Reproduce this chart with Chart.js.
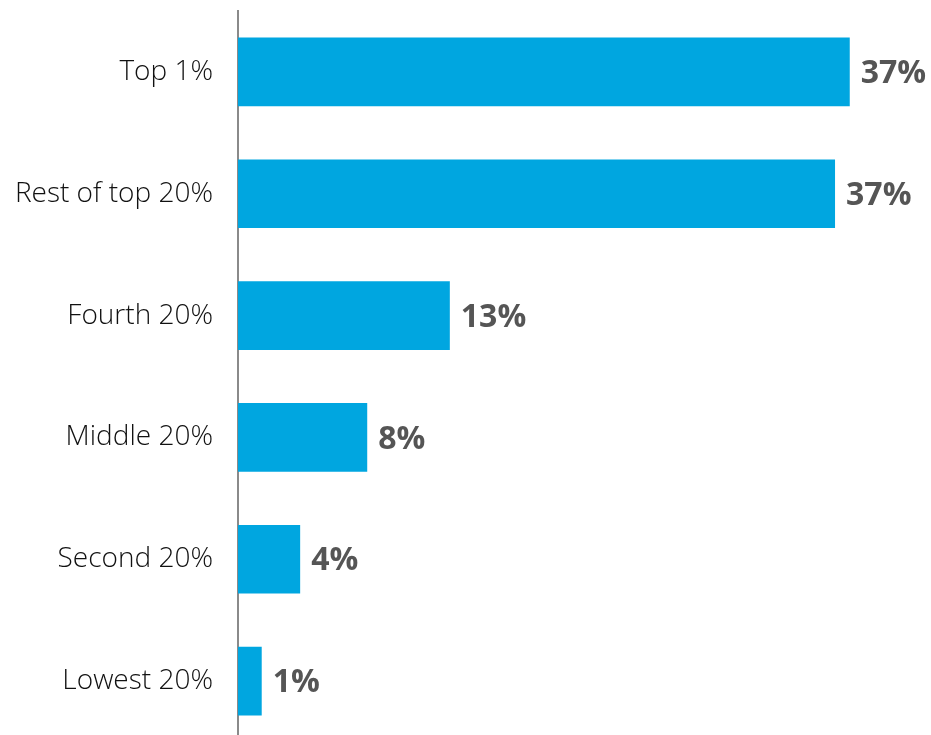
<!DOCTYPE html>
<html>
<head>
<meta charset="utf-8">
<script src="https://cdn.jsdelivr.net/npm/chart.js@4"></script>
<style>
  html, body { margin: 0; padding: 0; background: #fff; overflow: hidden; }
  #wrap { width: 931px; height: 742px; position: relative; }
</style>
</head>
<body>
<div id="wrap"><canvas id="c"></canvas></div>
<script>
const categories = ["Top 1%", "Rest of top 20%", "Fourth 20%", "Middle 20%", "Second 20%", "Lowest 20%"];
const shares = [37.4, 36.5, 12.95, 7.9, 3.8, 1.45];
const shareLabels = ["37%", "37%", "13%", "8%", "4%", "1%"];

const valueLabelPlugin = {
  id: 'valueLabels',
  afterDatasetsDraw(chart) {
    const ctx = chart.ctx;
    const meta = chart.getDatasetMeta(0);
    ctx.save();
    ctx.font = 'bold 32px "Open Sans"';
    ctx.fillStyle = '#555555';
    ctx.textAlign = 'left';
    ctx.textBaseline = 'middle';
    meta.data.forEach((bar, i) => {
      ctx.fillText(shareLabels[i], bar.x + 11, bar.y + 2);
    });
    ctx.restore();
  }
};

new Chart(document.getElementById('c'), {
  type: 'bar',
  data: {
    labels: categories,
    datasets: [{
      data: shares,
      backgroundColor: '#00a6e0',
      borderWidth: 0,
      categoryPercentage: 0.563,
      barPercentage: 1.0
    }]
  },
  options: {
    indexAxis: 'y',
    responsive: true,
    maintainAspectRatio: false,
    animation: false,
    layout: { padding: { top: 11, right: 6, bottom: 0, left: 0 } },
    plugins: { legend: { display: false }, tooltip: { enabled: false } },
    scales: {
      x: { display: false, min: 0, max: 42 },
      y: {
        afterFit(scale) { scale.width = 238; scale.paddingTop = 0; scale.paddingBottom = 0; },
        grid: { display: false, drawTicks: false },
        border: { display: true, color: '#8a8a8a', width: 2 },
        ticks: {
          padding: 25,
          color: '#111111',
          font: { family: '"Open Sans"', size: 28, weight: '300' }
        }
      }
    }
  },
  plugins: [valueLabelPlugin]
});
</script>
</body>
</html>
